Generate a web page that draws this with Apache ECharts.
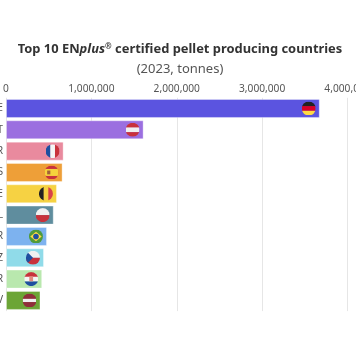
<!DOCTYPE html>
<html>
<head>
<meta charset="utf-8">
<style>
  html, body { margin: 0; padding: 0; background: #fff; }
  #main { width: 356px; height: 364px; overflow: hidden; }
</style>
<script src="https://cdn.jsdelivr.net/npm/echarts@6/dist/echarts.min.js"></script>
</head>
<body>
<div id="main"></div>
<script>
const categories = ['DE', 'AT', 'FR', 'ES', 'BE', 'PL', 'BR', 'CZ', 'HR', 'LV']
const tonnes = [3675000, 1612000, 675000, 663000, 597000, 559000, 480000, 445000, 424000, 404000]
const colors = ['#5b54e0', '#9b6fe0', '#e98a9e', '#ee9f38', '#f6d243', '#5f8d9e', '#7db2ef', '#90dbe9', '#b9e8ae', '#6ca536']

// flag artwork, one svg per country, 22x22 circle
function flag(body) {
  const svg = '<svg xmlns="http://www.w3.org/2000/svg" width="56" height="56" viewBox="0 0 22 22">' +
    '<clipPath id="c"><circle cx="11" cy="11" r="11"/></clipPath><g clip-path="url(#c)">' + body + '</g></svg>'
  return 'image://data:image/svg+xml;charset=utf-8,' + encodeURIComponent(svg)
}
function hStripes(a, b, c) {
  return '<rect width="22" height="8" fill="' + a + '"/><rect y="7.3" width="22" height="7.4" fill="' + b + '"/><rect y="14.7" width="22" height="7.3" fill="' + c + '"/>'
}
function vStripes(a, b, c) {
  return '<rect width="8" height="22" fill="' + a + '"/><rect x="7.3" width="7.4" height="22" fill="' + b + '"/><rect x="14.7" width="7.3" height="22" fill="' + c + '"/>'
}
const flags = {
  DE: flag(hStripes('#222', '#d80027', '#ffda44')),
  AT: flag(hStripes('#c8323c', '#f0f0f0', '#c8323c')),
  FR: flag(vStripes('#1f4fa0', '#f5f5f5', '#c8323c')),
  ES: flag('<rect width="22" height="22" fill="#c8323c"/><rect y="5.5" width="22" height="11" fill="#f5d23c"/><rect x="4" y="8" width="5" height="6" fill="#a2603a"/>'),
  BE: flag(vStripes('#222', '#f6d243', '#d8434a')),
  PL: flag('<rect width="22" height="11" fill="#f0f0f0"/><rect y="11" width="22" height="11" fill="#c8323c"/>'),
  BR: flag('<rect width="22" height="22" fill="#4f9a3c"/><path d="M11 3.5 20 11 11 18.5 2 11Z" fill="#ffda44"/><circle cx="11" cy="11" r="4.4" fill="#1f4fa0"/>'),
  CZ: flag('<rect width="22" height="11" fill="#f0f0f0"/><rect y="11" width="22" height="11" fill="#c8323c"/><path d="M0 0 11 11 0 22Z" fill="#1f4fa0"/>'),
  HR: flag(hStripes('#c8323c', '#f5f5f5', '#1f4fa0') + '<rect x="8" y="6.5" width="6" height="8" rx="1" fill="#e08a80"/>'),
  LV: flag('<rect width="22" height="22" fill="#8f2f3a"/><rect y="8.5" width="22" height="5" fill="#f0f0f0"/>')
}

const chart = echarts.init(document.getElementById('main'), null, { renderer: 'canvas' })
const font = '"Noto Sans", "Open Sans", sans-serif'

chart.setOption({
  animation: false,
  title: {
    left: 175,
    textAlign: 'center',
    top: 38,
    itemGap: 7,
    text: 'Top 10 EN{i|plus}{r|®} certified pellet producing countries',
    subtext: '(2023, tonnes)',
    textStyle: {
      fontFamily: font,
      fontSize: 12.9,
      fontWeight: 'bold',
      color: '#333',
      rich: {
        i: { fontFamily: font, fontSize: 12.9, fontWeight: 'bold', fontStyle: 'italic', color: '#333' },
        r: { fontFamily: font, fontSize: 8, fontWeight: 'bold', color: '#333', verticalAlign: 'top' }
      }
    },
    subtextStyle: { fontFamily: font, fontSize: 13, color: '#555' }
  },
  grid: { left: 6, right: 8.5, top: 97.8, height: 213.3, outerBoundsMode: 'none' },
  xAxis: {
    type: 'value',
    position: 'top',
    min: 0,
    max: 4000000,
    interval: 1000000,
    axisLine: { show: false },
    axisTick: { show: false },
    splitLine: { lineStyle: { color: '#e6e6e6', width: 1 } },
    axisLabel: {
      fontFamily: font,
      fontSize: 10.2,
      color: '#555',
      margin: 4,
      hideOverlap: false,
      showMaxLabel: true,
      formatter: v => v.toLocaleString('en-US')
    }
  },
  yAxis: {
    type: 'category',
    inverse: true,
    data: categories,
    axisLine: { show: false },
    axisTick: { show: false },
    axisLabel: { fontFamily: font, fontSize: 10.2, color: '#555', margin: 3 }
  },
  series: [
    {
      type: 'bar',
      barWidth: 19,
      data: tonnes.map((v, i) => ({
        value: v,
        itemStyle: { color: colors[i], borderColor: 'rgba(255,255,255,0.35)', borderWidth: 1 }
      }))
    },
    {
      type: 'scatter',
      symbolSize: 14,
      symbolOffset: [-11, 0],
      z: 5,
      itemStyle: { opacity: 1 },
      data: tonnes.map((v, i) => ({ value: [v, categories[i]], symbol: flags[categories[i]] }))
    }
  ]
})
</script>
</body>
</html>
